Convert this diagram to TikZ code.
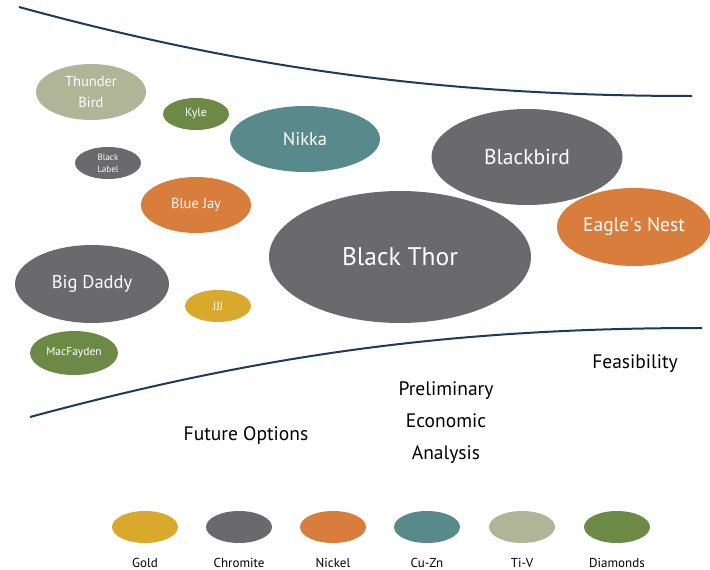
\documentclass[tikz,border=0pt]{standalone}
\usepackage{fontspec}
\setmainfont{PT Sans}
\usetikzlibrary{shapes.geometric}
\definecolor{gold}{HTML}{D8A92C}
\definecolor{chromite}{HTML}{6A6A6C}
\definecolor{nickel}{HTML}{D97D3D}
\definecolor{cuzn}{HTML}{58898B}
\definecolor{tiv}{HTML}{B0B598}
\definecolor{diamonds}{HTML}{6C8A46}
\definecolor{stage}{HTML}{1B3A5C}
\tikzset{
  deposit/.style 2 args={ellipse, inner sep=0pt, minimum width=#1, minimum height=#2,
    text=white, align=center},
  swatch/.style={ellipse, inner sep=0pt, minimum width=66pt, minimum height=32pt},
  stagetext/.style={align=center, font=\fontsize{19.5}{32}\selectfont},
  legendtext/.style={font=\fontsize{13}{15}\selectfont}
}
\begin{document}
\begin{tikzpicture}[x=1pt,y=-1pt]
      \useasboundingbox (0,0) rectangle (710,570);
      % stage boundaries
      \draw[stage, line width=2pt] (19,7) .. controls (250,70) and (450,96) .. (692,96);
      \draw[stage, line width=2pt] (30,417) .. controls (260,355) and (450,328) .. (702,328);
      % deposits
      \draw
        (91,92) node[deposit={110pt}{56pt}, fill=tiv, font=\fontsize{14.5}{21}\selectfont] (thunderbird) {Thunder\\Bird}
        (196,114) node[deposit={66pt}{32pt}, fill=diamonds, font=\fontsize{12}{14}\selectfont] (kyle) {\raisebox{-2pt}{Kyle}}
        (305,139) node[deposit={150pt}{66pt}, fill=cuzn, font=\fontsize{18.5}{20}\selectfont] (nikka) {Nikka}
        (108,163) node[deposit={66pt}{32pt}, fill=chromite, font=\fontsize{9}{12}\selectfont] (blacklabel) {Black\\Label}
        (196,205) node[deposit={110pt}{56pt}, fill=nickel, font=\fontsize{14.5}{16}\selectfont] (bluejay) {\raisebox{-2pt}{Blue Jay}}
        (527,157) node[deposit={191pt}{96pt}, fill=chromite, font=\fontsize{21.5}{24}\selectfont] (blackbird) {Blackbird}
        (634,227) node[deposit={154pt}{78pt}, fill=nickel, font=\fontsize{19.5}{22}\selectfont] (eaglesnest) {Eagle\textquotesingle s Nest}
        (400,257) node[deposit={262pt}{132pt}, fill=chromite, font=\fontsize{25.5}{28}\selectfont] (blackthor) {Black Thor}
        (92,284) node[deposit={154pt}{78pt}, fill=chromite, font=\fontsize{18.5}{20}\selectfont] (bigdaddy) {Big Daddy}
        (218,306) node[deposit={66pt}{32pt}, fill=gold, font=\fontsize{12}{14}\selectfont] (jjj) {JJJ}
        (74,353) node[deposit={88pt}{44pt}, fill=diamonds, font=\fontsize{11.5}{14}\selectfont] (macfayden) {MacFayden};
      % stages
      \draw
        (246,436) node[stagetext] (future) {Future Options}
        (446,423) node[stagetext] (pea) {Preliminary\\Economic\\Analysis}
        (635,364) node[stagetext] (feasibility) {Feasibility};
      % legend
      \draw
        (145,527) node[swatch, fill=gold] (gold) {}
        (239,527) node[swatch, fill=chromite] (chromite) {}
        (333,527) node[swatch, fill=nickel] (nickel) {}
        (427,527) node[swatch, fill=cuzn] (cuzn) {}
        (522,527) node[swatch, fill=tiv] (tiv) {}
        (617,527) node[swatch, fill=diamonds] (diamonds) {};
      \draw
        (145,563) node[legendtext] (goldlabel) {Gold}
        (239,563) node[legendtext] (chromitelabel) {Chromite}
        (333,563) node[legendtext] (nickellabel) {Nickel}
        (427,563) node[legendtext] (cuznlabel) {Cu-Zn}
        (522,563) node[legendtext] (tivlabel) {Ti-V}
        (617,563) node[legendtext] (diamondslabel) {Diamonds};
    \end{tikzpicture}
\end{document}
